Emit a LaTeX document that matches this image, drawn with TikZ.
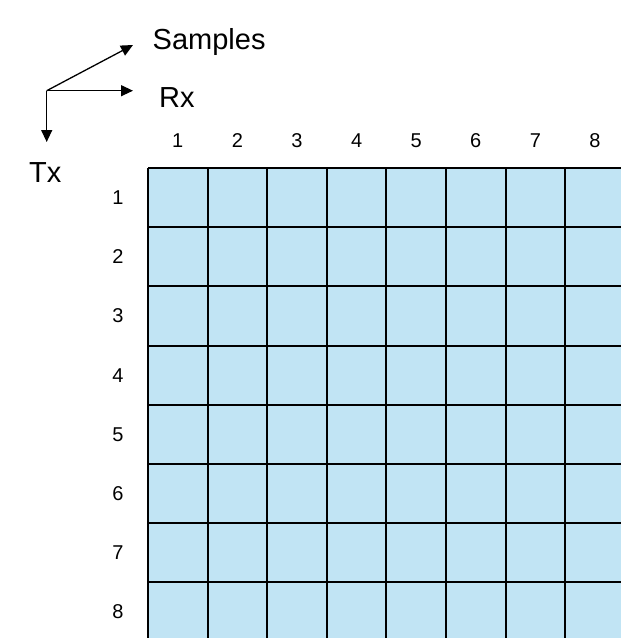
\documentclass[tikz,border=0pt]{standalone}
\usepackage{fontspec}
\setmainfont{Liberation Sans}
\usetikzlibrary{arrows.meta}
\definecolor{cellblue}{RGB}{193,228,244}
\tikzset{
  axis/.style={line width=1.3pt,-{Triangle[length=12pt,width=11pt]}},
  biglabel/.style={font=\fontsize{29}{33}\selectfont,inner sep=0pt},
  numlabel/.style={font=\fontsize{20}{24}\selectfont,inner sep=0pt},
  gridline/.style={line width=2pt,black}
}
\begin{document}
\begin{tikzpicture}[x=1pt,y=-1pt]
\useasboundingbox (0,0) rectangle (621,638);
\clip (0,0) rectangle (621,638);
% axes
\coordinate (O) at (46.7,90.7);
\coordinate (S) at (133,45);
\coordinate (R) at (133,90.7);
\coordinate (T) at (46.7,142);
\draw[axis] (O) -- (S);
\draw[axis] (O) -- (R);
\draw[axis] (O) -- (T);
\node[biglabel,anchor=base west] (samples) at (152.5,49) {Samples};
\node[biglabel,anchor=base west] (rx) at (159,107) {Rx};
\node[biglabel,anchor=base west] (tx) at (29,182) {Tx};
% grid
\fill[cellblue] (148,168) rectangle (625,645);
\foreach \i in {0,...,8} {
  \draw[gridline] ({148+59.6*\i},168) -- ({148+59.6*\i},645);
  \draw[gridline] (148,{168+59.2*\i}) -- (630,{168+59.2*\i});
}
\foreach \i in {1,...,8} {
  \node[numlabel] (c\i) at ({148+59.6*(\i-0.5)},140.5) {\i};
  \node[numlabel] (r\i) at (118,{168+59.2*(\i-0.5)}) {\i};
}
\end{tikzpicture}
\end{document}
